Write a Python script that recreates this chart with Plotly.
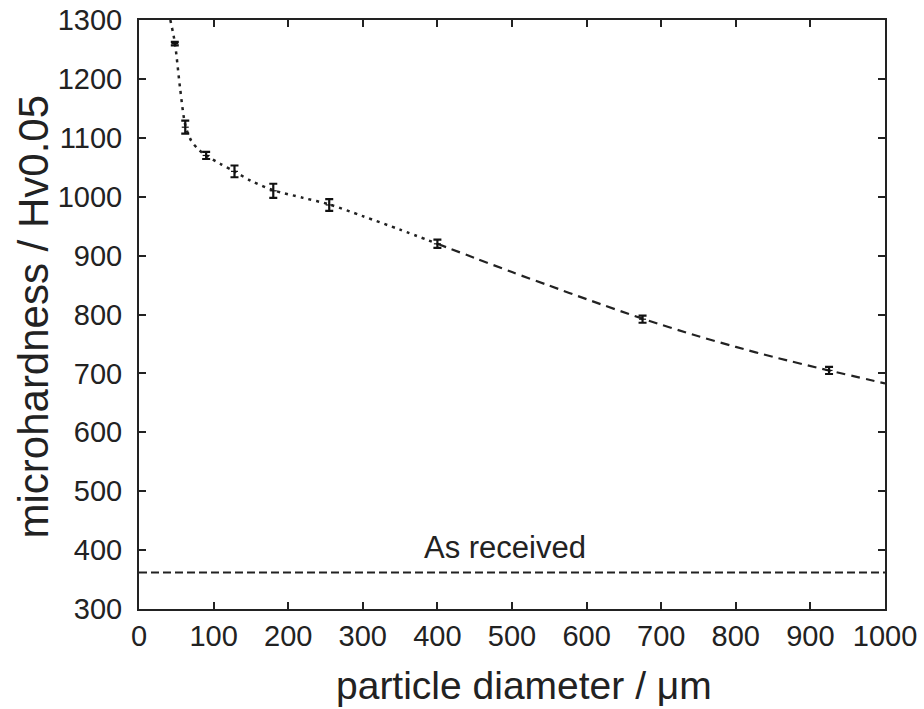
import plotly.graph_objects as go

# measured data (particle diameter in um, microhardness HV0.05, error)
diameter = [48, 62, 90, 128, 180, 255, 400, 675, 925]
hardness = [1260, 1118, 1070, 1043, 1010, 986, 920, 792, 705]
hard_err = [3, 11, 6, 10, 12, 10, 7, 6, 6]

# fitted trend, dotted part (fine particles)
fit_dot_x = [42, 48, 55, 62, 70, 80, 90, 110, 128, 150, 180, 220, 255, 300, 350, 400]
fit_dot_y = [1300, 1262, 1185, 1122, 1095, 1080, 1070, 1055, 1043, 1027, 1011, 998, 987, 967, 944, 920]

# fitted trend, dashed part (coarse particles)
fit_dash_x = [400, 450, 500, 550, 600, 675, 750, 800, 850, 925, 1000]
fit_dash_y = [920, 896, 872, 849, 826, 793, 763, 745, 728, 705, 683]

# reference level of the as-received material
as_received = 362
as_received_label = "As received"

x_ticks = [0, 100, 200, 300, 400, 500, 600, 700, 800, 900, 1000]
y_ticks = [300, 400, 500, 600, 700, 800, 900, 1000, 1100, 1200, 1300]

x_title = "particle diameter / μm"
y_title = "microhardness / Hv0.05"

FONT = "Liberation Sans, Arial, sans-serif"
INK = "#222"

fig = go.Figure()

fig.add_trace(go.Scatter(
    x=fit_dot_x, y=fit_dot_y, mode="lines",
    line=dict(color=INK, width=2.5, dash="3px,5px", shape="spline", smoothing=0.8),
    showlegend=False, hoverinfo="skip"))

fig.add_trace(go.Scatter(
    x=fit_dash_x, y=fit_dash_y, mode="lines",
    line=dict(color=INK, width=2.2, dash="9px,6px", shape="spline", smoothing=0.8),
    showlegend=False, hoverinfo="skip"))

fig.add_trace(go.Scatter(
    x=[0, 1000], y=[as_received, as_received], mode="lines",
    line=dict(color=INK, width=2, dash="8px,4px"),
    showlegend=False, hoverinfo="skip"))

fig.add_trace(go.Scatter(
    x=diameter, y=hardness, mode="markers",
    marker=dict(symbol="line-ew-open", size=5, color="#111", line=dict(width=1.2, color="#111")),
    error_y=dict(type="data", array=hard_err, visible=True, color="#111", thickness=2.2, width=4),
    showlegend=False))

fig.add_annotation(x=491, y=as_received, text=as_received_label, showarrow=False,
                   yanchor="bottom", yshift=5, font=dict(family=FONT, size=31, color=INK))

# axis titles placed as annotations
fig.add_annotation(xref="paper", yref="paper", x=0.5, y=0, xshift=12, yshift=-76,
                   text=x_title, showarrow=False, xanchor="center", yanchor="middle",
                   font=dict(family=FONT, size=39, color=INK))
fig.add_annotation(xref="paper", yref="paper", x=0, y=0.5, xshift=-106, yshift=-2,
                   text=y_title, showarrow=False, textangle=-90, xanchor="center", yanchor="middle",
                   font=dict(family=FONT, size=42, color=INK))

axis_common = dict(
    showgrid=False, zeroline=False, showline=True, linecolor=INK, linewidth=2,
    mirror="ticks", ticks="inside", ticklen=7, tickwidth=2, tickcolor=INK,
    automargin=False,
)

fig.update_xaxes(
    range=[0, 1000], tickvals=x_ticks, ticktext=[str(v) for v in x_ticks],
    tickfont=dict(family=FONT, size=29, color=INK),
    **axis_common)

fig.update_yaxes(
    range=[300, 1300], tickvals=y_ticks, ticktext=[str(v) for v in y_ticks],
    tickfont=dict(family=FONT, size=29, color=INK), ticklabelstandoff=9,
    **axis_common)

fig.update_layout(
    width=924, height=709,
    margin=dict(l=139, r=39, t=20, b=100),
    paper_bgcolor="white", plot_bgcolor="white",
)

fig.write_html("out.html", config={"displayModeBar": False},
               post_script="document.body.style.margin='0';document.body.style.overflow='hidden';")
